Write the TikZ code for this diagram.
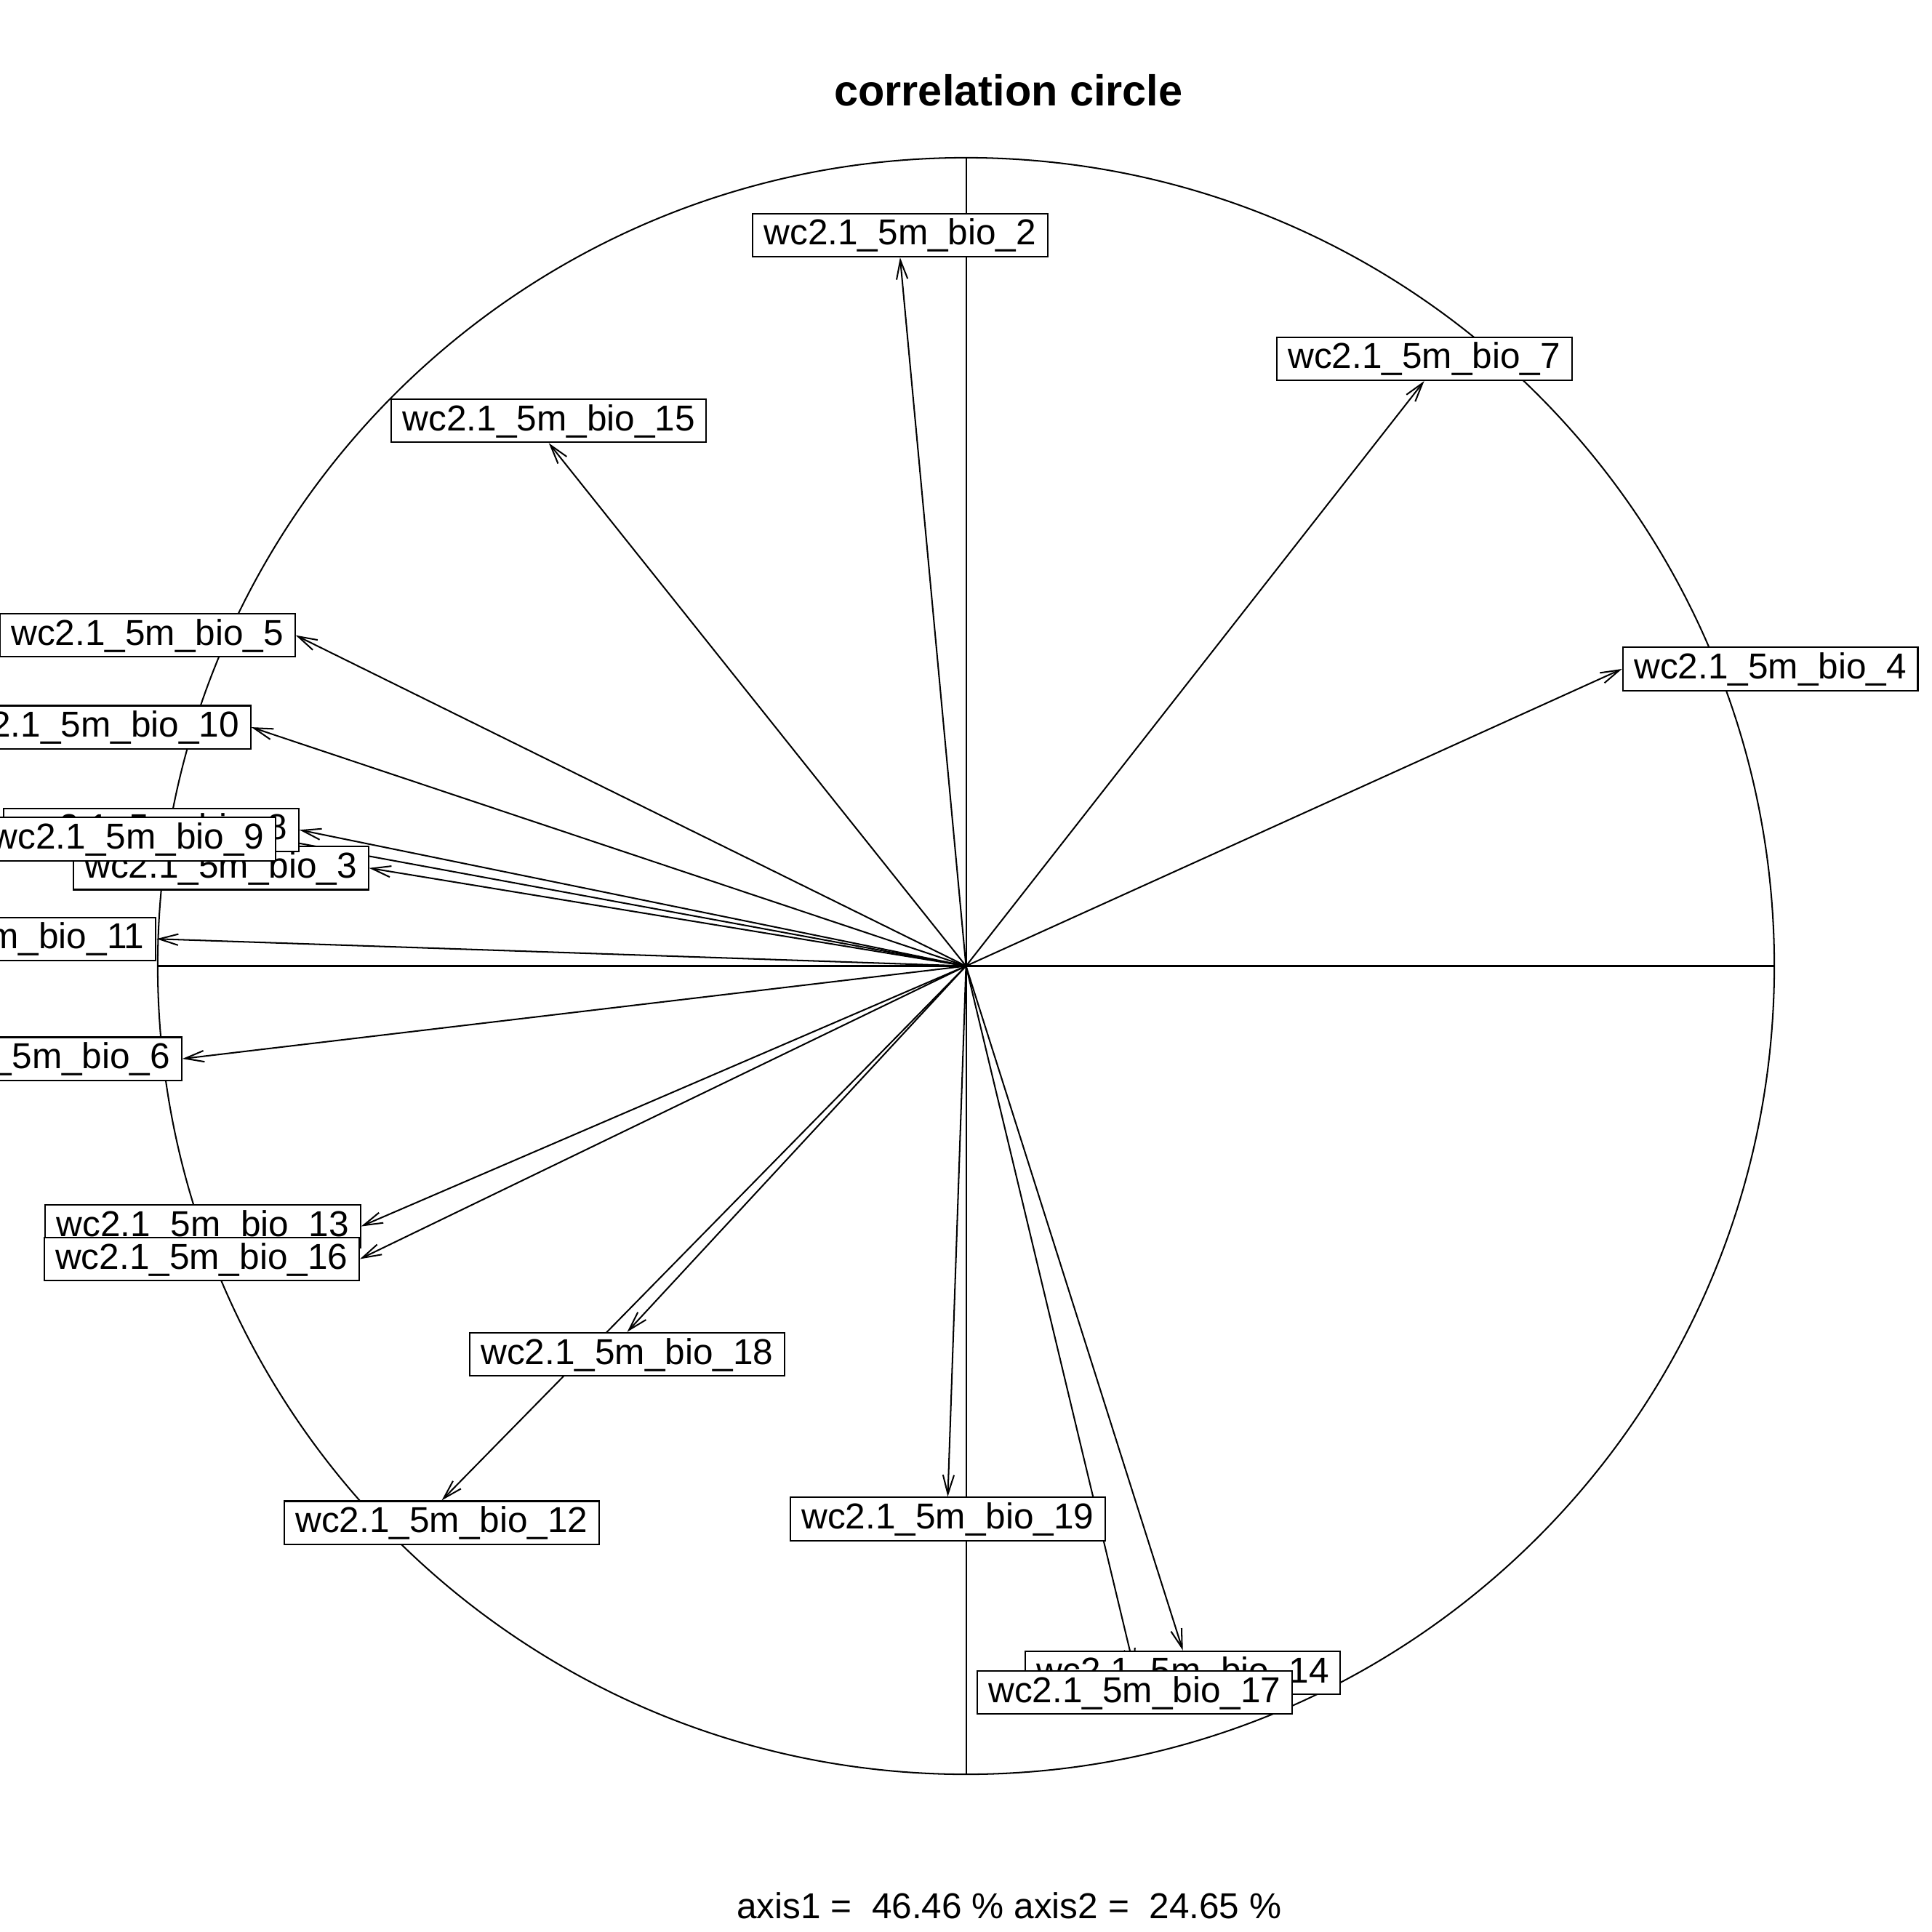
\documentclass[tikz,border=0pt]{standalone}
\usepackage{fontspec}
\setmainfont{Liberation Sans}
\usetikzlibrary{arrows.meta}
\pgfdeclarelayer{bg}
\pgfsetlayers{bg,main}
\begin{document}
\begin{tikzpicture}[x=1pt,y=-1pt,
  lab/.style={draw, fill=white, line width=1.25pt, inner xsep=9.2pt, inner ysep=0pt,
    text height=25.5pt, text depth=9.5pt, font=\fontsize{29.24}{35}\selectfont},
  arr/.style={line width=1.2pt, -{Straight Barb[length=15.5pt,width=9pt]}},
  ln/.style={line width=1.2pt}]
\useasboundingbox (0,0) rectangle (1568,1568);
\clip (0,0) rectangle (1568,1568);
\coordinate (O) at (784,784);
\coordinate (L) at (128,784);
\coordinate (R) at (1440,784);
\coordinate (T) at (784,128);
\coordinate (B) at (784,1440);

\node[lab, anchor=south] (b2)  at (730.5,209)   {wc2.1\_5m\_bio\_2};
\node[lab, anchor=east]  (b3)  at (299.6,704.5) {wc2.1\_5m\_bio\_3};
\node[lab, anchor=west]  (b4)  at (1316.4,542.9){wc2.1\_5m\_bio\_4};
\node[lab, anchor=east]  (b5)  at (240,515.6)   {wc2.1\_5m\_bio\_5};
\node[lab, anchor=east]  (b6)  at (148,859.3)   {wc2.1\_5m\_bio\_6};
\node[lab, anchor=south] (b7)  at (1155.9,309.2){wc2.1\_5m\_bio\_7};
\node[lab, anchor=east]  (b8)  at (243,673.5)   {wc2.1\_5m\_bio\_8};
\node[lab, anchor=east]  (b9)  at (224.3,681)   {wc2.1\_5m\_bio\_9};
\node[lab, anchor=east]  (b10) at (204,590.2)   {wc2.1\_5m\_bio\_10};
\node[lab, anchor=east]  (b11) at (127,762)     {wc2.1\_5m\_bio\_11};
\node[lab, anchor=north] (b12) at (358.5,1217.7){wc2.1\_5m\_bio\_12};
\node[lab, anchor=east]  (b13) at (293.1,995.3) {wc2.1\_5m\_bio\_13};
\node[lab, anchor=north] (b14) at (960,1339.5)  {wc2.1\_5m\_bio\_14};
\node[lab, anchor=south] (b15) at (445.4,359.6) {wc2.1\_5m\_bio\_15};
\node[lab, anchor=east]  (b16) at (292.1,1021.8){wc2.1\_5m\_bio\_16};
\node[lab, anchor=north] (b17) at (920.8,1355.5){wc2.1\_5m\_bio\_17};
\node[lab, anchor=north] (b18) at (509,1081)    {wc2.1\_5m\_bio\_18};
\node[lab, anchor=north] (b19) at (769.2,1214.7){wc2.1\_5m\_bio\_19};

\node[font=\bfseries\fontsize{35.1}{42}\selectfont, anchor=base] (title) at (818.5,86) {correlation circle};
\node[font=\fontsize{29.24}{35}\selectfont, anchor=base] (sub) at (819,1557) {axis1 =~~46.46~\%~axis2 =~~24.65~\%};

\begin{pgfonlayer}{bg}
\draw[ln] (O) circle[radius=656];
\draw[ln] (L) -- (R);
\draw[ln] (T) -- (B);
\foreach \n/\a in {2/south,3/east,4/west,5/east,6/east,7/south,8/east,9/east,10/east,
  11/east,12/north,13/east,14/north,15/south,16/east,17/north,18/north,19/north}
  \draw[arr] (O) -- (b\n.\a);
\end{pgfonlayer}
\end{tikzpicture}
\end{document}
